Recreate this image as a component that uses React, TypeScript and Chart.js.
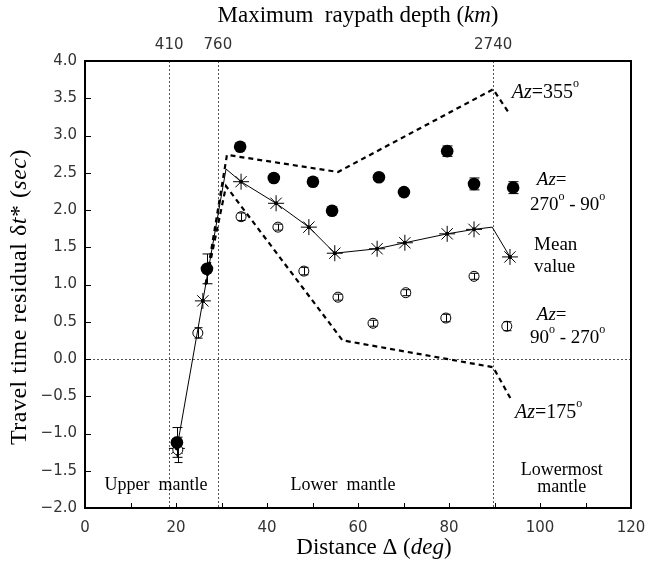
import React, { useEffect, useRef } from 'react';
import { Chart, registerables } from 'chart.js';
Chart.register(...registerables);

// ---- data (distance in deg, residual in sec) ----
const filledDist = [20.2, 26.8, 34.1, 41.5, 50.1, 54.3, 64.6, 70.1, 79.6, 85.5, 94.1];
const filledVal = [-1.12, 1.21, 2.85, 2.43, 2.38, 1.99, 2.44, 2.24, 2.79, 2.35, 2.3];
const filledErr = [0.2, 0.2, 0, 0, 0, 0, 0, 0, 0.07, 0.08, 0.08];

const openDist = [20.4, 24.8, 34.3, 42.4, 48.1, 55.6, 63.3, 70.5, 79.3, 85.5, 92.7];
const openVal = [-1.22, 0.35, 1.91, 1.77, 1.18, 0.83, 0.48, 0.89, 0.55, 1.11, 0.44];
const openErr = [0.17, 0.07, 0.05, 0.04, 0.05, 0.04, 0.04, 0.04, 0.05, 0.04, 0.06];

const starDist = [20.2, 25.9, 34.3, 42.0, 49.2, 54.9, 64.2, 70.3, 79.6, 85.5, 93.4];
const starVal = [-1.2, 0.78, 2.38, 2.09, 1.77, 1.42, 1.48, 1.56, 1.68, 1.74, 1.37];
const meanBendDist = [31.0, 89.5];
const meanBendVal = [2.55, 1.77];

const az355Dist = [26.5, 31.2, 55.6, 89.7, 93.2];
const az355Val = [1.0, 2.74, 2.51, 3.62, 3.3];
const az175Dist = [26.5, 31.0, 56.6, 89.7, 93.8];
const az175Val = [1.0, 2.32, 0.25, -0.11, -0.56];

const depthLabels = ['410', '760', '2740'];
const depthDist = [18.5, 29.2, 89.7];

const xTickValues = [0, 10, 20, 30, 40, 50, 60, 70, 80, 90, 100, 110, 120];

type Part = { t: string; i?: boolean; sup?: boolean };
type Note = { d: number; v: number; parts: Part[]; align: 'left' | 'center'; size: number };

const notes: Note[] = [
  { d: 93.8, v: 3.58, align: 'left', size: 20, parts: [{ t: 'Az', i: true }, { t: '=355' }, { t: 'o', sup: true }] },
  { d: 99.3, v: 2.4, align: 'left', size: 19, parts: [{ t: 'Az', i: true }, { t: '=' }] },
  { d: 97.8, v: 2.07, align: 'left', size: 19, parts: [{ t: '270' }, { t: 'o', sup: true }, { t: ' - 90' }, { t: 'o', sup: true }] },
  { d: 98.7, v: 1.53, align: 'left', size: 19, parts: [{ t: 'Mean' }] },
  { d: 98.7, v: 1.23, align: 'left', size: 19, parts: [{ t: 'value' }] },
  { d: 99.3, v: 0.59, align: 'left', size: 19, parts: [{ t: 'Az', i: true }, { t: '=' }] },
  { d: 97.8, v: 0.28, align: 'left', size: 19, parts: [{ t: '90' }, { t: 'o', sup: true }, { t: ' - 270' }, { t: 'o', sup: true }] },
  { d: 94.5, v: -0.72, align: 'left', size: 20, parts: [{ t: 'Az', i: true }, { t: '=175' }, { t: 'o', sup: true }] },
  { d: 15.6, v: -1.7, align: 'center', size: 18, parts: [{ t: 'Upper  mantle' }] },
  { d: 56.7, v: -1.7, align: 'center', size: 18, parts: [{ t: 'Lower  mantle' }] },
  { d: 104.8, v: -1.5, align: 'center', size: 18, parts: [{ t: 'Lowermost' }] },
  { d: 104.8, v: -1.72, align: 'center', size: 18, parts: [{ t: 'mantle' }] },
];

const SERIF = '"Liberation Serif", "Times New Roman", serif';

function drawRich(ctx: CanvasRenderingContext2D, parts: Part[], x: number, y: number, size: number, align: 'left' | 'center') {
  const fontFor = (p: Part) => `${p.i ? 'italic ' : ''}${p.sup ? Math.round(size * 0.62) : size}px ${SERIF}`;
  let w = 0;
  for (const p of parts) {
    ctx.font = fontFor(p);
    w += ctx.measureText(p.t).width;
  }
  let cx = align === 'center' ? x - w / 2 : x;
  ctx.textAlign = 'left';
  ctx.textBaseline = 'middle';
  for (const p of parts) {
    ctx.font = fontFor(p);
    ctx.fillText(p.t, cx, p.sup ? y - size * 0.42 : y);
    cx += ctx.measureText(p.t).width;
  }
}

const pts = (xs: number[], ys: number[]) => xs.map((x, i) => ({ x, y: ys[i] }));

const overlay = {
  id: 'overlay',
  beforeDatasetsDraw(chart: any) {
    const { ctx, chartArea: a, scales } = chart;
    const xs = scales.x, ys = scales.y;
    ctx.save();
    ctx.strokeStyle = '#555';
    ctx.lineWidth = 1;
    ctx.setLineDash([2, 2]);
    depthDist.forEach((d) => {
      const px = Math.round(xs.getPixelForValue(d)) + 0.5;
      ctx.beginPath();
      ctx.moveTo(px, a.top);
      ctx.lineTo(px, a.bottom);
      ctx.stroke();
    });
    const py0 = Math.round(ys.getPixelForValue(0)) + 0.5;
    ctx.beginPath();
    ctx.moveTo(a.left, py0);
    ctx.lineTo(a.right, py0);
    ctx.stroke();
    ctx.restore();
  },
  afterDatasetsDraw(chart: any) {
    const { ctx, chartArea: a, scales } = chart;
    const xs = scales.x, ys = scales.y;
    ctx.save();
    // error bars
    ctx.strokeStyle = '#000';
    ctx.lineWidth = 1;
    ctx.setLineDash([]);
    const drawErr = (dist: number[], val: number[], err: number[], cap: number) => {
      dist.forEach((d, i) => {
        if (!err[i]) return;
        const px = Math.round(xs.getPixelForValue(d)) + 0.5;
        const y1 = ys.getPixelForValue(val[i] + err[i]);
        const y2 = ys.getPixelForValue(val[i] - err[i]);
        ctx.beginPath();
        ctx.moveTo(px, y1);
        ctx.lineTo(px, y2);
        ctx.moveTo(px - cap, y1);
        ctx.lineTo(px + cap, y1);
        ctx.moveTo(px - cap, y2);
        ctx.lineTo(px + cap, y2);
        ctx.stroke();
      });
    };
    drawErr(filledDist, filledVal, filledErr, 5);
    drawErr(openDist, openVal, openErr, 4);

    // frame
    ctx.lineWidth = 2;
    ctx.strokeRect(a.left, a.top, a.right - a.left, a.bottom - a.top);
    // inward ticks
    ctx.lineWidth = 1;
    ctx.beginPath();
    xTickValues.forEach((v) => {
      const px = Math.round(xs.getPixelForValue(v)) + 0.5;
      ctx.moveTo(px, a.bottom);
      ctx.lineTo(px, a.bottom - 5);
    });
    ys.ticks.forEach((t: any) => {
      const py = Math.round(ys.getPixelForValue(t.value)) + 0.5;
      ctx.moveTo(a.left, py);
      ctx.lineTo(a.left + 6, py);
    });
    ctx.stroke();

    // annotations
    ctx.fillStyle = '#000';
    notes.forEach((n) => {
      drawRich(ctx, n.parts, xs.getPixelForValue(n.d), ys.getPixelForValue(n.v), n.size, n.align);
    });

    // top depth labels
    ctx.font = '15px "DejaVu Sans", sans-serif';
    ctx.fillStyle = '#333';
    ctx.textAlign = 'center';
    ctx.textBaseline = 'middle';
    depthLabels.forEach((l, i) => {
      ctx.fillText(l, xs.getPixelForValue(depthDist[i]), a.top - 16);
    });

    // titles
    ctx.fillStyle = '#000';
    const cxPlot = (a.left + a.right) / 2;
    drawRich(ctx, [{ t: 'Maximum  raypath depth (' }, { t: 'km', i: true }, { t: ')' }], cxPlot, 16, 23, 'center');
    drawRich(ctx, [{ t: 'Distance \u0394 (' }, { t: 'deg', i: true }, { t: ')' }], cxPlot + 16, 548, 23, 'center');
    ctx.save();
    ctx.translate(20, 297);
    ctx.rotate(-Math.PI / 2);
    try {
      (ctx as any).letterSpacing = '0.5px';
    } catch (e) {
      /* ignore */
    }
    drawRich(ctx, [{ t: 'Travel time residual \u03b4' }, { t: 't', i: true }, { t: '* (' }, { t: 'sec', i: true }, { t: ')' }], 0, 0, 24, 'center');
    try {
      (ctx as any).letterSpacing = '0px';
    } catch (e) {
      /* ignore */
    }
    ctx.restore();
    ctx.restore();
  },
};

export default function App() {
  const ref = useRef<HTMLCanvasElement | null>(null);
  useEffect(() => {
    if (!ref.current) return;
    const meanLine = [...pts(starDist, starVal), ...pts(meanBendDist, meanBendVal)].sort((p, q) => p.x - q.x);
    const meanRadius = meanLine.map((p) => (meanBendDist.includes(p.x) ? 0 : 2));
    const tickFont = { family: '"DejaVu Sans", sans-serif', size: 15 };
    const chart = new Chart(ref.current, {
      type: 'scatter',
      data: {
        datasets: [
          {
            type: 'line',
            label: 'Mean value',
            data: meanLine,
            borderColor: '#000',
            backgroundColor: '#000',
            borderWidth: 1,
            pointRadius: meanRadius,
            pointBorderWidth: 0,
            tension: 0,
          },
          {
            type: 'line',
            label: 'Az=355',
            data: pts(az355Dist, az355Val),
            borderColor: '#000',
            borderWidth: 2.2,
            borderDash: [5, 4],
            pointRadius: 0,
            tension: 0,
          },
          {
            type: 'line',
            label: 'Az=175',
            data: pts(az175Dist, az175Val),
            borderColor: '#000',
            borderWidth: 2.2,
            borderDash: [5, 4],
            pointRadius: 0,
            tension: 0,
          },
          {
            label: 'Az=270-90',
            data: pts(filledDist, filledVal),
            pointStyle: 'circle',
            pointRadius: 6.3,
            backgroundColor: '#000',
            borderColor: '#000',
            borderWidth: 0,
          },
          {
            label: 'Az=90-270',
            data: pts(openDist, openVal),
            pointStyle: 'circle',
            pointRadius: 5,
            backgroundColor: '#fff',
            borderColor: '#000',
            borderWidth: 1,
          },
          {
            label: 'Mean stars',
            data: pts(starDist, starVal),
            pointStyle: 'star',
            pointRadius: 8,
            backgroundColor: '#000',
            borderColor: '#000',
            borderWidth: 1,
          },
        ],
      },
      options: {
        responsive: false,
        devicePixelRatio: 1,
        animation: false,
        layout: { padding: { top: 61, right: 17, left: 0, bottom: 0 } },
        plugins: { legend: { display: false }, tooltip: { enabled: false } },
        scales: {
          x: {
            type: 'linear',
            min: 0,
            max: 120,
            grid: { display: false, drawTicks: false },
            border: { display: false },
            ticks: { stepSize: 20, font: tickFont, color: '#333', padding: 11, maxRotation: 0 },
            afterFit: (s: any) => {
              s.height = 65;
              s.paddingLeft = 0;
              s.paddingRight = 0;
            },
          },
          y: {
            type: 'linear',
            min: -2,
            max: 4,
            grid: { display: false, drawTicks: false },
            border: { display: false },
            ticks: {
              stepSize: 0.5,
              font: tickFont,
              color: '#333',
              padding: 8,
              autoSkip: false,
              callback: (v: any) => (v < 0 ? '\u2212' + Math.abs(v).toFixed(1) : Number(v).toFixed(1)),
            },
            afterFit: (s: any) => {
              s.width = 85;
              s.paddingTop = 0;
              s.paddingBottom = 0;
            },
          },
        },
      },
      plugins: [overlay],
    });
    return () => chart.destroy();
  }, []);
  return (
    <div style={{ position: 'absolute', left: 0, top: 0, width: 648, height: 573, background: '#fff' }}>
      <canvas ref={ref} width={648} height={573} />
    </div>
  );
}
